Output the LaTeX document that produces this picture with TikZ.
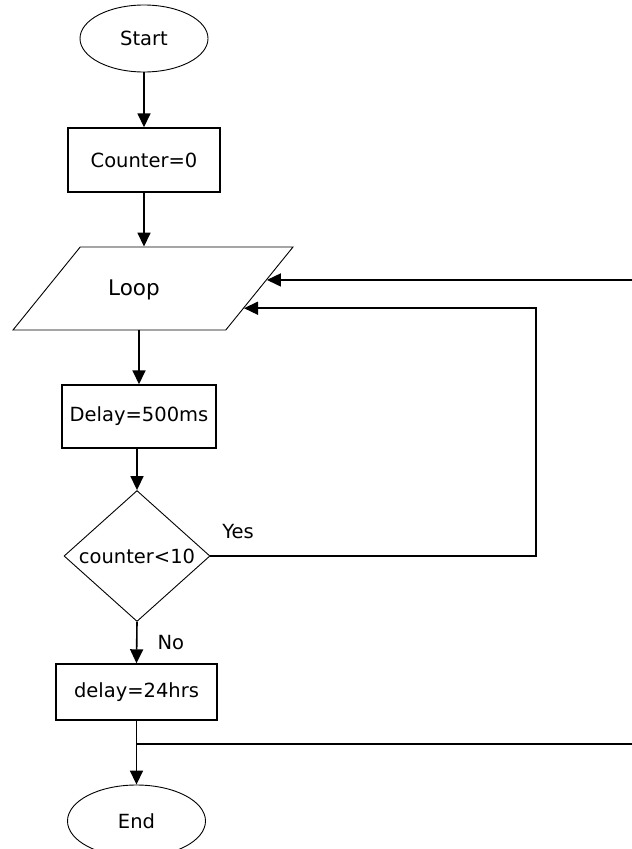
\documentclass[tikz,border=0pt]{standalone}
\usepackage{fontspec}
\setmainfont{DejaVu Sans}
\usetikzlibrary{shapes.geometric,arrows.meta,calc,positioning}

\tikzset{
  txt/.style={font=\fontsize{19.5}{23}\selectfont},
  box/.style={draw, line width=1.4pt, rectangle, inner sep=0pt, txt},
  term/.style={draw, line width=0.9pt, ellipse, inner sep=0pt, txt},
  io/.style={draw, line width=0.9pt, trapezium, trapezium left angle=51,
    trapezium right angle=129, trapezium stretches body, inner sep=0pt,
    text height=41.5pt, text depth=41.5pt},
  test/.style={draw, line width=0.9pt, diamond, inner sep=0pt, txt},
  lbl/.style={inner sep=0pt, txt},
  flow/.style={line width=1.6pt, -{Triangle[length=14pt,width=13pt]}},
  wire/.style={line width=1.6pt}
}

\begin{document}
\begin{tikzpicture}[x=1pt,y=-1pt]
\useasboundingbox (0,0) rectangle (632,849);
\node[term, minimum width=128, minimum height=67] (start) at (144,38.5) {Start};
\node[box, minimum width=152, minimum height=64] (counter) at (144,160) {Counter=0};
\node[io, minimum width=280] (loop) at (153,288.5) {};
\node[lbl, font=\fontsize{21.5}{25}\selectfont] (looptxt) at (134,290) {Loop};
\node[box, minimum width=154, minimum height=63] (delay) at (139,416.5) {Delay=500ms};
\node[test, minimum width=146, minimum height=92] (cond) at (137,556) {counter<10};
\node[lbl] (yes) at (238,532) {Yes};
\node[box, minimum width=161, minimum height=56] (d24) at (136.5,692) {delay=24hrs};
\node[term, minimum width=138, minimum height=72] (end) at (136.5,821) {End};

% way points
\coordinate (rimx) at (632,0);
\coordinate (backx) at (536,0);
\coordinate (loopin1) at ($(loop.top right corner)!0.398!(loop.bottom right corner)$);
\coordinate (loopin2) at ($(loop.top right corner)!0.735!(loop.bottom right corner)$);
\coordinate (join) at (136.5,744);

\draw[flow] (start) -- (counter);
\draw[flow] (counter.south) -- (counter.south |- loop.north);
\draw[flow] (delay.north |- loop.south) -- (delay.north);
\draw[flow] (cond.north |- delay.south) -- (cond.north);
\draw[flow] (cond.south) -- node[lbl, right=20pt] (no) {No} (d24.north);
\draw[wire] (d24.south) -- (join);
\draw[flow] (join) -- (end);
\draw[wire] (join -| rimx) -- (join);
\draw[flow] (loopin1 -| rimx) -- (loopin1);
\draw[flow] (cond.east) -| (loopin2 -| backx) -- (loopin2);
\end{tikzpicture}
\end{document}
